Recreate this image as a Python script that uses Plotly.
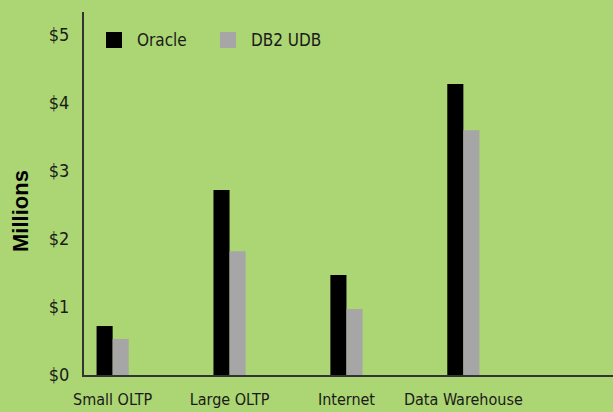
import plotly.graph_objects as go

categories = ["Small OLTP", "Large OLTP", "Internet", "Data Warehouse"]
oracle = [0.72, 2.72, 1.47, 4.28]
db2 = [0.53, 1.82, 0.97, 3.60]
tick_vals = [0, 1, 2, 3, 4, 5]
tick_text = ["$0", "$1", "$2", "$3", "$4", "$5"]
series_names = ["Oracle", "DB2 UDB"]
series_colors = ["#000000", "#A6A6A6"]

NARROW = "Liberation Sans Narrow, Arial Narrow, DejaVu Sans Condensed, sans-serif"
BG = "#ACD573"
TXT = "#1a1a1a"

W, H = 613, 412
L, R, T, B = 84, 0, 12, 37
PW, PH = W - L - R, H - T - B


def px(x):
    return (x - L) / PW


def py(y):
    return (H - B - y) / PH


fig = go.Figure()
for name, vals, col in zip(series_names, [oracle, db2], series_colors):
    fig.add_trace(go.Bar(name=name, x=categories, y=vals, marker_color=col,
                         marker_line_width=0, showlegend=False))

# custom legend (square swatches + labels)
shapes = []
annotations = []
legend_x = [106, 220]
for i, (name, col) in enumerate(zip(series_names, series_colors)):
    x0 = legend_x[i]
    shapes.append(dict(type="rect", xref="paper", yref="paper",
                       x0=px(x0), x1=px(x0 + 16), y0=py(48), y1=py(32),
                       fillcolor=col, line_width=0))
    annotations.append(dict(text=name, xref="paper", yref="paper",
                            x=px(x0 + 29), y=py(40), xanchor="left", yanchor="middle",
                            showarrow=False,
                            font=dict(family=NARROW, size=17, color=TXT)))

annotations.append(dict(text="<b>Millions</b>", xref="paper", yref="paper",
                        x=px(20), y=py(211), xanchor="center", yanchor="middle",
                        textangle=-90, showarrow=False,
                        font=dict(family="Liberation Sans, Arial, sans-serif", size=22,
                                  color="#000000")))

fig.update_layout(
    width=W, height=H,
    margin=dict(l=L, r=R, t=T, b=B, autoexpand=False),
    paper_bgcolor=BG, plot_bgcolor=BG,
    barmode="group", bargap=0.725, bargroupgap=0,
    font=dict(family=NARROW, size=16, color=TXT),
    showlegend=False,
    xaxis=dict(type="category", range=[-0.245, 4.28], showline=True, linecolor="#333333",
               linewidth=2, showgrid=False, ticks="", ticklabelstandoff=9,
               tickfont=dict(family=NARROW, size=16, color=TXT), automargin=False,
               fixedrange=True),
    yaxis=dict(range=[0, 5.338], tickvals=tick_vals, ticktext=tick_text, showline=True,
               linecolor="#333333", linewidth=2, showgrid=False, zeroline=False, ticks="",
               ticklabelstandoff=9, tickfont=dict(family=NARROW, size=18, color=TXT),
               automargin=False, fixedrange=True),
    shapes=shapes,
    annotations=annotations,
)

fig.write_html("out.html", config={"displayModeBar": False, "staticPlot": True},
               post_script="document.body.style.margin='0px';document.body.style.background='" + BG + "';")
